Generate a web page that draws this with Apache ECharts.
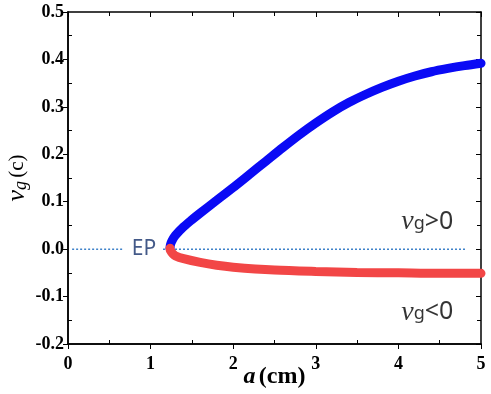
<!DOCTYPE html>
<html>
<head>
<meta charset="utf-8">
<script src="https://cdn.jsdelivr.net/npm/echarts@6/dist/echarts.min.js"></script>
<style>
html, body { margin: 0; padding: 0; background: #fff; }
#chart { width: 491px; height: 394px; }
</style>
</head>
<body>
<div id="chart"></div>
<script>
// group velocity branches
var upperBranch = [
  [1.235, 0.002], [1.24, 0.009], [1.26, 0.018], [1.3, 0.029], [1.4, 0.047],
  [1.5, 0.062], [1.6, 0.076], [1.8, 0.103], [2.0, 0.130], [2.2, 0.158],
  [2.4, 0.186], [2.6, 0.214], [2.8, 0.241], [3.0, 0.266], [3.2, 0.289],
  [3.4, 0.309], [3.6, 0.326], [3.8, 0.341], [4.0, 0.354], [4.2, 0.365],
  [4.4, 0.374], [4.6, 0.381], [4.8, 0.387], [5.0, 0.392]
];
var lowerBranch = [
  [1.235, 0.002], [1.24, -0.003], [1.27, -0.010], [1.3, -0.014], [1.4, -0.020],
  [1.6, -0.028], [1.8, -0.034], [2.0, -0.038], [2.5, -0.044], [3.0, -0.047],
  [3.5, -0.049], [4.0, -0.050], [4.5, -0.051], [5.0, -0.051]
];
var zeroLine = [[0.05, 0], [0.67, 0], [0.9, '-'], [1.15, 0], [4.81, 0]];
var xTicks = [0, 1, 2, 3, 4, 5];
var yTicks = [-0.2, -0.1, 0.0, 0.1, 0.2, 0.3, 0.4, 0.5];
var notes = [
  { pos: [0.92, 0], text: '{e|EP}' },
  { pos: [4.35, 0.057], text: '{v|v}{g|g}{t|>0}' },
  { pos: [4.35, -0.133], text: '{v|v}{g|g}{t|<0}' }
];

var chart = echarts.init(document.getElementById('chart'));
var serif = '"Liberation Serif", "Times New Roman", serif';
var sans = '"Noto Sans", sans-serif';
var axisLine = { show: true, onZero: false, lineStyle: { color: '#000', width: 1.5 } };
var tickStyle = { color: '#000', width: 1 };

function frameAxis(range, pos, majorShow, inside, minorShow) {
  return {
    type: 'value', position: pos, min: range[0], max: range[1], interval: range[2],
    axisLine: axisLine,
    axisTick: { show: majorShow, inside: inside, length: 5, lineStyle: tickStyle },
    minorTick: { show: minorShow, splitNumber: 2, length: 4, lineStyle: tickStyle },
    axisLabel: { show: false },
    splitLine: { show: false }
  };
}
var xr = [0, 5, 1], yr = [-0.2, 0.5, 0.1];

chart.setOption({
  animation: false,
  grid: { left: 68, right: 10, top: 12, bottom: 50, containLabel: false, outerBoundsMode: 'none' },
  xAxis: [
    {
      type: 'value', position: 'bottom', min: 0, max: 5, interval: 1,
      axisLine: axisLine,
      axisTick: { show: true, inside: false, length: 5, lineStyle: tickStyle },
      axisLabel: {
        margin: 11, fontFamily: serif, fontWeight: 'bold', fontSize: 18, color: '#000',
        formatter: function (v) { return xTicks.indexOf(v) >= 0 ? String(v) : ''; }
      },
      splitLine: { show: false },
      name: '{a|a} {b|(cm)}', nameLocation: 'middle', nameGap: 21, nameMoveOverlap: false,
      nameTextStyle: {
        rich: {
          a: { fontFamily: serif, fontWeight: 'bold', fontStyle: 'italic', fontSize: 24, color: '#000' },
          b: { fontFamily: serif, fontWeight: 'bold', fontSize: 24, color: '#000' }
        }
      }
    },
    frameAxis(xr, 'bottom', false, true, true),
    frameAxis(xr, 'top', true, true, true)
  ],
  yAxis: [
    {
      type: 'value', position: 'left', min: -0.2, max: 0.5, interval: 0.1,
      axisLine: axisLine,
      axisTick: { show: true, inside: false, length: 5, lineStyle: tickStyle },
      axisLabel: {
        margin: 4, fontFamily: serif, fontWeight: 'bold', fontSize: 18, color: '#000',
        formatter: function (v) {
          var t = yTicks.filter(function (y) { return Math.abs(y - v) < 1e-6; });
          return t.length ? t[0].toFixed(1) : '';
        }
      },
      splitLine: { show: false },
      name: '{v|v}{g|g} {c|(c)}', nameLocation: 'middle', nameGap: 38, nameMoveOverlap: false,
      nameTextStyle: {
        rich: {
          v: { fontFamily: serif, fontStyle: 'italic', fontSize: 26, color: '#000' },
          g: { fontFamily: serif, fontStyle: 'italic', fontSize: 18, color: '#000', padding: [8, 0, 0, 0] },
          c: { fontFamily: serif, fontSize: 21, color: '#000' }
        }
      }
    },
    frameAxis(yr, 'left', false, true, true),
    frameAxis(yr, 'right', true, true, true)
  ],
  series: [
    {
      type: 'line', data: zeroLine, symbol: 'none', connectNulls: false,
      lineStyle: { color: '#3f82c9', width: 1.5, type: [2, 2] }, z: 1
    },
    {
      type: 'line', data: upperBranch, symbol: 'none', smooth: 0.3,
      lineStyle: { color: '#0a0af5', width: 9, cap: 'round' }, z: 2
    },
    {
      type: 'line', data: lowerBranch, symbol: 'none', smooth: 0.3,
      lineStyle: { color: '#f24646', width: 9, cap: 'round' }, z: 3
    },
    {
      type: 'scatter', symbolSize: 0, silent: true, z: 4,
      data: notes.map(function (n) { return { value: n.pos, text: n.text }; }),
      label: {
        show: true, position: 'inside',
        formatter: function (p) { return p.data.text; },
        rich: {
          e: { fontFamily: sans, fontSize: 21, color: '#14306a' },
          v: { fontFamily: serif, fontStyle: 'italic', fontSize: 28, color: '#000' },
          g: { fontFamily: sans, fontSize: 18, color: '#000', padding: [4, 0, 0, 0] },
          t: { fontFamily: sans, fontSize: 25, color: '#000' }
        }
      }
    }
  ]
});
</script>
</body>
</html>
